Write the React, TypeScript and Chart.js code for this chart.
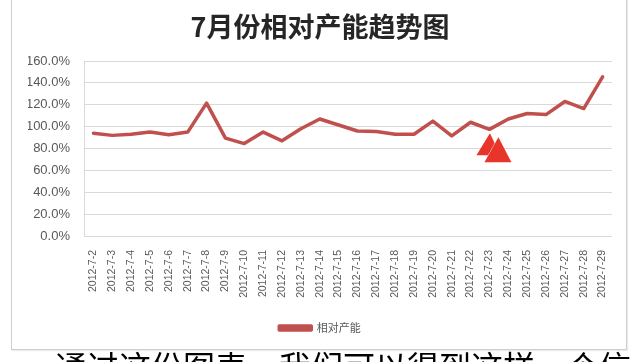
import React, { useEffect, useRef } from "react";
import { Chart, registerables } from "chart.js";

Chart.register(...registerables);

const titleText = "7月份相对产能趋势图";
const seriesName = "相对产能";
const categories = [
  "2012-7-2", "2012-7-3", "2012-7-4", "2012-7-5", "2012-7-6", "2012-7-7", "2012-7-8",
  "2012-7-9", "2012-7-10", "2012-7-11", "2012-7-12", "2012-7-13", "2012-7-14", "2012-7-15",
  "2012-7-16", "2012-7-17", "2012-7-18", "2012-7-19", "2012-7-20", "2012-7-21", "2012-7-22",
  "2012-7-23", "2012-7-24", "2012-7-25", "2012-7-26", "2012-7-27", "2012-7-28", "2012-7-29",
];
const capacityValues = [
  94, 92, 93, 95, 92.5, 95, 121.5,
  89.5, 84.5, 95, 87, 98, 107, 101.5,
  96, 95.5, 93, 93, 105, 91.5, 104,
  97.5, 107, 112, 111, 123, 116.5, 145.5,
];
const yTickValues = [0, 20, 40, 60, 80, 100, 120, 140, 160];
const markerCategory = "2012-7-23";
const captionText = "通过这份图表，我们可以得到这样一个信";

const triangles = {
  id: "triangles",
  afterDatasetsDraw(chart: any) {
    const idx = categories.indexOf(markerCategory);
    const pt = chart.getDatasetMeta(0).data[idx];
    if (!pt) return;
    const { x, y } = pt;
    const ctx = chart.ctx;
    ctx.save();
    ctx.fillStyle = "#e8342a";
    ctx.beginPath();
    ctx.moveTo(x + 0.5, y + 4);
    ctx.lineTo(x + 11, y + 26);
    ctx.lineTo(x - 13, y + 26);
    ctx.closePath();
    ctx.fill();
    ctx.strokeStyle = "#ffffff";
    ctx.lineWidth = 1;
    ctx.beginPath();
    ctx.moveTo(x + 9, y + 8);
    ctx.lineTo(x - 5, y + 33);
    ctx.stroke();
    ctx.beginPath();
    ctx.moveTo(x + 9, y + 8);
    ctx.lineTo(x + 22, y + 33);
    ctx.lineTo(x - 5, y + 33);
    ctx.closePath();
    ctx.fill();
    ctx.restore();
  },
};

export default function App() {
  const canvasRef = useRef<HTMLCanvasElement | null>(null);

  useEffect(() => {
    document.body.style.margin = "0";
    const canvas = canvasRef.current;
    if (!canvas) return;
    const tickColor = "#595959";
    const chart = new Chart(canvas, {
      type: "line",
      data: {
        labels: categories,
        datasets: [
          {
            label: seriesName,
            data: capacityValues,
            borderColor: "#c0504d",
            backgroundColor: "#c0504d",
            borderWidth: 3.5,
            pointRadius: 0,
            tension: 0,
            borderJoinStyle: "round",
            borderCapStyle: "round",
          },
        ],
      },
      options: {
        responsive: false,
        animation: false,
        devicePixelRatio: 1,
        layout: { padding: { left: 28, right: 28, top: 0, bottom: 18.5 } },
        plugins: {
          title: {
            display: true,
            text: titleText,
            color: "#262626",
            font: { family: "'Noto Sans CJK SC'", size: 27, weight: "bold", lineHeight: 1.2 },
            padding: { top: 11, bottom: 17.6 },
          },
          legend: {
            display: true,
            position: "bottom",
            labels: {
              boxWidth: 32,
              boxHeight: 4,
              padding: 10,
              color: tickColor,
              font: { family: "'Noto Sans CJK SC'", size: 11 },
            },
          },
          tooltip: { enabled: false },
        },
        scales: {
          x: {
            offset: true,
            grid: { display: false, drawTicks: false },
            border: { display: false },
            ticks: {
              autoSkip: false,
              maxRotation: 90,
              minRotation: 90,
              padding: 14,
              color: tickColor,
              font: { family: "'Liberation Sans'", size: 10.5 },
            },
            afterFit(scale: any) {
              scale.height = 76.5;
            },
          },
          y: {
            min: 0,
            max: 160,
            afterBuildTicks(scale: any) {
              scale.ticks = yTickValues.map((v) => ({ value: v }));
            },
            grid: { color: "#d9d9d9", lineWidth: 1, drawTicks: false },
            border: { display: true, color: "#d9d9d9" },
            ticks: {
              padding: 14,
              color: tickColor,
              font: { family: "'Liberation Sans'", size: 13 },
              callback: (v: any) => Number(v).toFixed(1) + "%",
            },
            afterFit(scale: any) {
              scale.width = 56;
            },
          },
        },
      },
      plugins: [triangles],
    });
    return () => chart.destroy();
  }, []);

  return (
    <div style={{ position: "relative", width: 640, height: 362, overflow: "hidden", background: "#fff" }}>
      <div
        style={{
          position: "absolute",
          left: 11,
          top: -2,
          width: 616,
          height: 352,
          border: "1px solid #cfcfcf",
          boxSizing: "border-box",
          boxShadow: "1px 1px 1px rgba(0,0,0,0.08)",
        }}
      />
      <canvas ref={canvasRef} width={640} height={362} style={{ position: "absolute", left: 0, top: 0 }} />
      <div
        style={{
          position: "absolute",
          left: 55,
          top: 349,
          whiteSpace: "nowrap",
          fontFamily: "'Noto Sans CJK SC'",
          fontSize: 32,
          lineHeight: 1,
          color: "#000",
        }}
      >
        {captionText}
      </div>
    </div>
  );
}
